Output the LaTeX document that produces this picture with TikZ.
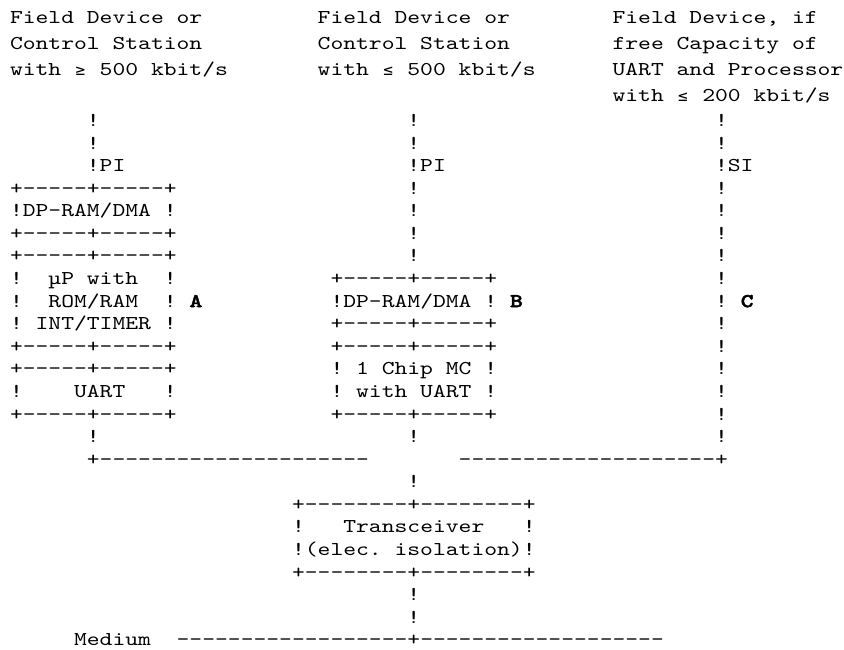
\documentclass[tikz,border=0pt]{standalone}
\usepackage{fontspec}
% typewriter face, widened so that one character cell is 12.82pt
\setmonofont{lmmono10-regular.otf}[FakeStretch=1.246]
\newfontfamily\tagfont{lmmonolt10-bold.otf}[FakeStretch=1.246,FakeBold=2.2]
\newfontfamily\symfont{DejaVu Sans Mono}
\newcommand\cw{12.82}   % width of one character cell
\newcommand\xo{10}      % left edge of column 0
% header lines: given baseline
\newcommand\hx[4]{\node[tt] (#1) at ({\xo+#2*\cw},#3) {#4};}
% body lines: given row number
\newcommand\bx[4]{\node[tt] (#1) at ({\xo+#2*\cw},{126.5+(#3-5)*22.58}) {#4};}
% relation signs, centred in their cell
\newcommand\sx[4]{\node[sym] (#1) at ({\xo+(#2+0.5)*\cw},#3) {#4};}
% bold letters beside the variants
\newcommand\tg[4]{\node[tag] (#1) at ({\xo+#2*\cw},{126.5+(#3-5)*22.58}) {#4};}
\begin{document}
\begin{tikzpicture}[x=1pt,y=-1pt,
  tt/.style={anchor=base west,inner sep=0pt,outer sep=0pt,
    font=\ttfamily\fontsize{19.6}{22}\selectfont},
  tag/.style={tt,font=\tagfont\fontsize{19.6}{22}\selectfont},
  sym/.style={anchor=base,inner sep=0pt,outer sep=0pt,
    font=\symfont\fontsize{16}{20}\selectfont}]
\fill[white] (0,0) rectangle (844,650);
\useasboundingbox (0,0) rectangle (844,650);

% ---- headings of the three variants
\hx{fa1}{0}{23.5}{Field}   \hx{fa2}{6}{23.5}{Device}   \hx{fa3}{13}{23.5}{or}
\hx{fb1}{24}{23.5}{Field}  \hx{fb2}{30}{23.5}{Device}  \hx{fb3}{37}{23.5}{or}
\hx{fc1}{47}{23.5}{Field}  \hx{fc2}{53}{23.5}{Device,} \hx{fc3}{61}{23.5}{if}

\hx{ga1}{0}{49.5}{Control}   \hx{ga2}{8}{49.5}{Station}
\hx{gb1}{24}{49.5}{Control}  \hx{gb2}{32}{49.5}{Station}
\hx{gc1}{47}{49.5}{free}     \hx{gc2}{52}{49.5}{Capacity}  \hx{gc3}{61}{49.5}{of}

\hx{ha1}{0}{75.5}{with}  \sx{ha2}{5}{75.5}{≥}  \hx{ha3}{7}{75.5}{500}  \hx{ha4}{11}{75.5}{kbit/s}
\hx{hb1}{24}{75.5}{with} \sx{hb2}{29}{75.5}{≤} \hx{hb3}{31}{75.5}{500} \hx{hb4}{35}{75.5}{kbit/s}
\hx{hc1}{47}{75.5}{UART} \hx{hc2}{52}{75.5}{and} \hx{hc3}{56}{75.5}{Processor}

\hx{kc1}{47}{101.5}{with} \sx{kc2}{52}{101.5}{≤} \hx{kc3}{54}{101.5}{200} \hx{kc4}{58}{101.5}{kbit/s}

% ---- interfaces PI / PI / SI
\bx{p5a}{6}{5}{!}  \bx{p5b}{31}{5}{!}  \bx{p5c}{55}{5}{!}
\bx{p6a}{6}{6}{!}  \bx{p6b}{31}{6}{!}  \bx{p6c}{55}{6}{!}
\bx{p7a}{6}{7}{!PI} \bx{p7b}{31}{7}{!PI} \bx{p7c}{55}{7}{!SI}

% ---- variant A: DP-RAM, processor, UART
\bx{a8}{0}{8}{+-----+-----+}
\bx{a9}{0}{9}{!DP-RAM/DMA} \bx{a9r}{12}{9}{!}
\bx{a10}{0}{10}{+-----+-----+}
\bx{a11}{0}{11}{+-----+-----+}
\bx{a12}{0}{12}{!} \bx{a12m}{3}{12}{µP} \bx{a12n}{6}{12}{with} \bx{a12r}{12}{12}{!}
\bx{a13}{0}{13}{!} \bx{a13m}{3}{13}{ROM/RAM} \bx{a13r}{12}{13}{!} \tg{tagA}{14}{13}{A}
\bx{a14}{0}{14}{!} \bx{a14m}{2}{14}{INT/TIMER} \bx{a14r}{12}{14}{!}
\bx{a15}{0}{15}{+-----+-----+}
\bx{a16}{0}{16}{+-----+-----+}
\bx{a17}{0}{17}{!} \bx{a17m}{5}{17}{UART} \bx{a17r}{12}{17}{!}
\bx{a18}{0}{18}{+-----+-----+}
\bx{a19}{6}{19}{!}

% ---- variant B: DP-RAM and one-chip controller
\bx{b8}{31}{8}{!}  \bx{b9}{31}{9}{!}  \bx{b10}{31}{10}{!}  \bx{b11}{31}{11}{!}
\bx{b12}{25}{12}{+-----+-----+}
\bx{b13}{25}{13}{!DP-RAM/DMA} \bx{b13r}{37}{13}{!} \tg{tagB}{39}{13}{B}
\bx{b14}{25}{14}{+-----+-----+}
\bx{b15}{25}{15}{+-----+-----+}
\bx{b16}{25}{16}{!} \bx{b16m}{27}{16}{1} \bx{b16n}{29}{16}{Chip} \bx{b16o}{34}{16}{MC} \bx{b16r}{37}{16}{!}
\bx{b17}{25}{17}{!} \bx{b17m}{27}{17}{with} \bx{b17n}{32}{17}{UART} \bx{b17r}{37}{17}{!}
\bx{b18}{25}{18}{+-----+-----+}
\bx{b19}{31}{19}{!}

% ---- variant C: serial interface straight down
\bx{c8}{55}{8}{!}   \bx{c9}{55}{9}{!}   \bx{c10}{55}{10}{!} \bx{c11}{55}{11}{!}
\bx{c12}{55}{12}{!} \bx{c13}{55}{13}{!} \tg{tagC}{57}{13}{C}
\bx{c14}{55}{14}{!} \bx{c15}{55}{15}{!} \bx{c16}{55}{16}{!} \bx{c17}{55}{17}{!}
\bx{c18}{55}{18}{!} \bx{c19}{55}{19}{!}

% ---- common bus to the transceiver
\bx{busL}{6}{20}{+---------------------}
\bx{busR}{35}{20}{--------------------+}
\bx{t21}{31}{21}{!}
\bx{t22}{22}{22}{+--------+--------+}
\bx{t23}{22}{23}{!} \bx{t23m}{26}{23}{Transceiver} \bx{t23r}{40}{23}{!}
\bx{t24}{22}{24}{!(elec.} \bx{t24m}{30}{24}{isolation)!}
\bx{t25}{22}{25}{+--------+--------+}
\bx{t26}{31}{26}{!}
\bx{t27}{31}{27}{!}

% ---- medium
\bx{med}{5}{28}{Medium}
\bx{medl}{13}{28}{------------------+-------------------}
\end{tikzpicture}
\end{document}
